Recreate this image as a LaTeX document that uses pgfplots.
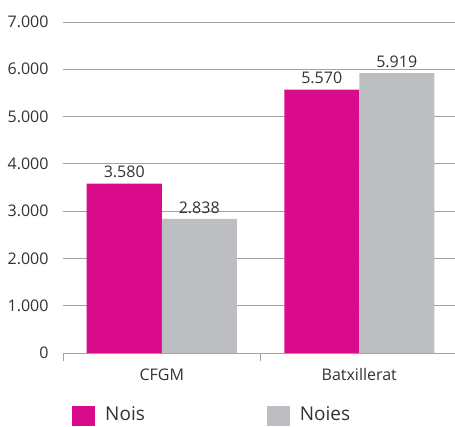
\documentclass[border=0pt]{standalone}
\usepackage{pgfplots}
\pgfplotsset{compat=1.18}
\usepackage{fontspec}
\setmainfont{Open Sans}
\definecolor{mag}{HTML}{D90B8A}
\definecolor{gr}{HTML}{BDBEC2}
\definecolor{txt}{HTML}{333333}
\definecolor{gridc}{HTML}{A3A3A3}
\begin{document}
\begin{tikzpicture}
\useasboundingbox (0pt,0pt) rectangle (455pt,426pt);
\begin{axis}[
  at={(63pt,73pt)}, anchor=south west,
  scale only axis, width=395pt, height=331pt,
  xmin=-0.5, xmax=1.5, ymin=0, ymax=7000,
  ybar=0pt, bar width=75pt,
  axis x line*=bottom, axis y line*=left,
  y axis line style={draw=none},
  x axis line style={gridc, line width=0.8pt, -},
  ytick={0,1000,...,7000},
  ytick style={draw=none},
  ymajorgrids, grid style={gridc, line width=0.8pt},
  /pgf/number format/assume math mode=true,
  /pgf/number format/1000 sep={.},
  yticklabel style={font=\fontsize{16}{18}\selectfont, color=txt, xshift=-3pt},
  xtick={-0.5,0.5,1.5}, xticklabels={},
  xtick style={gridc, line width=0.8pt},
  tick align=outside, major tick length=8pt,
  extra x ticks={0,1}, extra x tick labels={CFGM,Batxillerat},
  extra x tick style={major tick length=0pt, xticklabel style={font=\fontsize{16}{18}\selectfont, color=txt, yshift=-12pt}},
  nodes near coords,
  every node near coord/.append style={font=\fontsize{16}{18}\selectfont, color=txt, yshift=2pt, /pgf/number format/1000 sep={.}},
  legend columns=2,
  legend style={at={(0.0228,-0.155)}, anchor=north west, draw=none, fill=none, inner sep=0pt,
    font=\fontsize{19}{22}\selectfont, text=txt,
    /tikz/every odd column/.append style={column sep=8pt},
    /tikz/every even column/.append style={column sep=120pt}},
  legend image code/.code={\fill[#1] (0pt,-12pt) rectangle (23pt,8pt);},
]
\addplot[fill=mag, draw=none] coordinates {(0,3580) (1,5570)};
\addplot[fill=gr, draw=none] coordinates {(0,2838) (1,5919)};
\legend{Nois,Noies}
\end{axis}
\end{tikzpicture}
\end{document}
